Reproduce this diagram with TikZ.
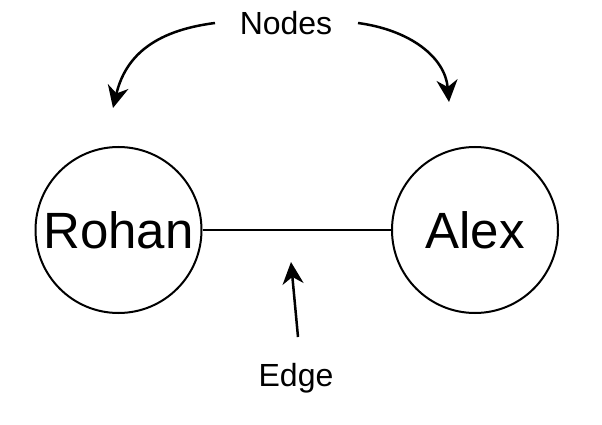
\documentclass[tikz,border=0pt]{standalone}
\usepackage{fontspec}
\setmainfont{Liberation Sans}
\usetikzlibrary{arrows.meta}
\begin{document}
\begin{tikzpicture}[x=1pt,y=-1pt,
  person/.style={circle,draw,line width=2pt,minimum size=166pt,inner sep=0pt,font=\fontsize{51}{56}\selectfont},
  lbl/.style={font=\fontsize{32}{37}\selectfont,inner sep=0pt},
  arr/.style={line width=2.5pt,-{Stealth[length=22pt,width=21pt,inset=7pt]}}]
\useasboundingbox (0,0) rectangle (602,425);
\node[person] (rohan) at (118.5,230) {Rohan};
\node[person] (alex) at (475,230) {Alex};
\draw[line width=2pt] (rohan.east) -- (alex.west);
\node[lbl,anchor=base] (nodes) at (286,35) {Nodes};
\node[lbl,anchor=base] (edge) at (296,386) {Edge};
\coordinate (ls) at (215,23);
\coordinate (lt) at (113,108);
\coordinate (rs) at (358,23);
\coordinate (rt) at (449,102);
\coordinate (es) at (298,337);
\coordinate (et) at (291,262);
\draw[arr] (ls) .. controls (152,31) and (125,58) .. (lt);
\draw[arr] (rs) .. controls (410,30) and (445,57) .. (rt);
\draw[arr] (es) -- (et);
\end{tikzpicture}
\end{document}
